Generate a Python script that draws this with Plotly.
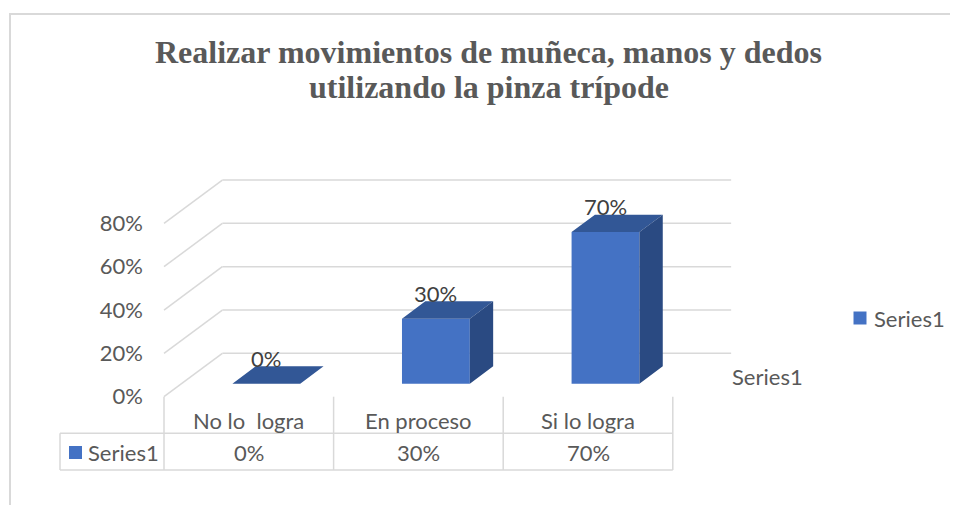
import plotly.graph_objects as go

# ---------------- data ----------------
categories = ["No lo\u00a0 logra", "En proceso", "Si lo logra"]
values = [0, 30, 70]
series_name = "Series1"
y_ticks = [0, 20, 40, 60, 80]
title_lines = ["Realizar movimientos de muñeca, manos y dedos",
               "utilizando la pinza trípode"]

# ---------------- geometry / style ----------------
OX, OY = 8, 8                    # page body margin
WF, HF = 958 - OX, 513 - 2 * OY  # figure size (no scrollbars)
X0_PX = 164.0      # page pixel of x=-0.5 on front plane
PX_X = 169.6       # pixels per category
Y0_PX = 396.7      # page pixel of 0% on front plane
PX_Y = 2.1667      # pixels per percent
DX, DY = 0.344, 20.0   # oblique depth of the back wall (data units)
F1, F2 = 0.3, 0.7      # bar depth slice
BAR_W = 0.4


def px(p):
    return (p - OX) / WF


def py(p):
    return 1 - (p - OY) / HF


L, R, T, B = 40, 800, 150, 490
xr = [-0.5 + (L - X0_PX) / PX_X, -0.5 + (R - X0_PX) / PX_X]
yr = [(Y0_PX - B) / PX_Y, (Y0_PX - T) / PX_Y]

FONT = "Lato"
FS = 22
GRAY = "#595959"
GRID = "#d9d9d9"
FRONT, TOP, SIDE = "#4472C4", "#325796", "#2A4A82"

fig = go.Figure()

base = F1 * DY
xc = [i + F1 * DX for i in range(len(categories))]

fig.add_trace(go.Bar(x=xc, y=values, base=base, width=BAR_W,
                     marker=dict(color=FRONT, line=dict(width=0)),
                     name=series_name, hoverinfo="skip", showlegend=False))

ddx, ddy = (F2 - F1) * DX, (F2 - F1) * DY
tx, ty, sx, sy = [], [], [], []
for c, v in zip(xc, values):
    x1, x2 = c - BAR_W / 2, c + BAR_W / 2
    top = base + v
    tx += [x1, x2, x2 + ddx, x1 + ddx, x1, None]
    ty += [top, top, top + ddy, top + ddy, top, None]
    if v > 0:
        sx += [x2, x2 + ddx, x2 + ddx, x2, x2, None]
        sy += [base, base + ddy, top + ddy, top, base, None]

fig.add_trace(go.Scatter(x=tx, y=ty, fill="toself", fillcolor=TOP, mode="lines",
                         line=dict(width=0), showlegend=False, hoverinfo="skip"))
fig.add_trace(go.Scatter(x=sx, y=sy, fill="toself", fillcolor=SIDE, mode="lines",
                         line=dict(width=0), showlegend=False, hoverinfo="skip"))

shapes = []
n = len(categories)
# back wall gridlines + oblique side-wall lines
for t in y_ticks:
    shapes.append(dict(type="line", xref="x", yref="y", layer="below",
                       x0=-0.5, y0=t, x1=-0.5 + DX, y1=t + DY,
                       line=dict(color=GRID, width=1.5)))
    shapes.append(dict(type="line", xref="x", yref="y", layer="below",
                       x0=-0.5 + DX, y0=t + DY, x1=n - 0.5 + DX, y1=t + DY,
                       line=dict(color=GRID, width=1.5)))

# data table
x_left = -0.5 + (60 - X0_PX) / PX_X
y_row = (Y0_PX - 433.3) / PX_Y
y_bot = (Y0_PX - 470.0) / PX_Y
for k in range(n + 1):
    shapes.append(dict(type="line", xref="x", yref="y", x0=k - 0.5, x1=k - 0.5,
                       y0=0, y1=y_bot, line=dict(color=GRID, width=1.5)))
for yy in (y_row, y_bot):
    shapes.append(dict(type="line", xref="x", yref="y", x0=x_left, x1=n - 0.5,
                       y0=yy, y1=yy, line=dict(color=GRID, width=1.5)))
shapes.append(dict(type="line", xref="x", yref="y", x0=x_left, x1=x_left,
                   y0=y_row, y1=y_bot, line=dict(color=GRID, width=1.5)))
# table legend key
shapes.append(dict(type="rect", xref="paper", yref="paper",
                   x0=px(69), x1=px(82), y0=py(459), y1=py(446),
                   fillcolor=FRONT, line=dict(width=0)))
# right legend key
shapes.append(dict(type="rect", xref="paper", yref="paper",
                   x0=px(853.5), x1=px(866.5), y0=py(324.5), y1=py(311.5),
                   fillcolor=FRONT, line=dict(width=0)))
# chart border
shapes.append(dict(type="path", xref="paper", yref="paper",
                   path=f"M {px(10)},0 L {px(10)},{py(14)} L 1,{py(14)}",
                   line=dict(color=GRID, width=2)))

ann = []
# title
for line, yy in zip(title_lines, (52.5, 87.0)):
    ann.append(dict(text=line, xref="paper", yref="paper", x=px(488.5), y=py(yy),
                    xanchor="center", yanchor="middle", showarrow=False,
                    font=dict(family="Liberation Serif", size=32, color=GRAY,
                              weight="bold")))
# data labels
for c, v in zip(xc, values):
    ann.append(dict(text=f"{v}%", xref="x", yref="y", x=c, y=v + F2 * DY + 3.7,
                    xanchor="center", yanchor="middle", showarrow=False,
                    font=dict(family=FONT, size=FS, color="#404040")))
# table contents
y_cat = (Y0_PX - 420.0) / PX_Y
y_val = (Y0_PX - 452.0) / PX_Y
for i, (cat, v) in enumerate(zip(categories, values)):
    ann.append(dict(text=cat, xref="x", yref="y", x=i, y=y_cat, showarrow=False,
                    xanchor="center", yanchor="middle",
                    font=dict(family=FONT, size=FS, color=GRAY)))
    ann.append(dict(text=f"{v}%", xref="x", yref="y", x=i, y=y_val, showarrow=False,
                    xanchor="center", yanchor="middle",
                    font=dict(family=FONT, size=FS, color=GRAY)))
ann.append(dict(text=series_name, xref="paper", yref="y", x=px(86), y=y_val,
                showarrow=False, xanchor="left", yanchor="middle",
                font=dict(family=FONT, size=FS, color=GRAY)))
# depth axis label
ann.append(dict(text=series_name, xref="x", yref="y",
                x=-0.5 + (730 - X0_PX) / PX_X, y=(Y0_PX - 376) / PX_Y,
                showarrow=False, xanchor="left", yanchor="middle",
                font=dict(family=FONT, size=FS, color=GRAY)))
# right legend text
ann.append(dict(text=series_name, xref="paper", yref="paper",
                x=px(872), y=py(318), showarrow=False, xanchor="left",
                yanchor="middle", font=dict(family=FONT, size=FS, color=GRAY)))

fig.update_layout(
    width=WF, height=HF, margin=dict(l=0, r=0, t=0, b=0),
    paper_bgcolor="white", plot_bgcolor="rgba(0,0,0,0)",
    shapes=shapes, annotations=ann,
    showlegend=False,
    xaxis=dict(range=xr, domain=[px(L), px(R)], visible=False),
    yaxis=dict(range=yr, domain=[py(B), py(T)], anchor="free",
               position=px(X0_PX), tickvals=y_ticks,
               ticktext=[f"{t}%" for t in y_ticks], showgrid=False, zeroline=False,
               showline=False, ticks="", ticklabelstandoff=21,
               tickfont=dict(family=FONT, size=FS, color=GRAY)),
)

fig.write_html("out.html")
